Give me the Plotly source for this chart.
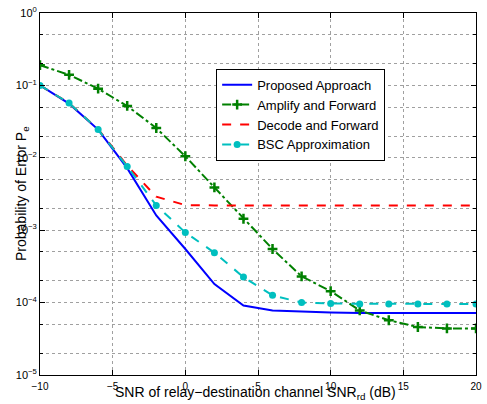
import plotly.graph_objects as go

snr = [-10, -8, -6, -4, -2, 0, 2, 4, 6, 8, 10, 12, 14, 16, 18, 20]

proposed = [0.1, 0.056, 0.0245, 0.0072, 0.0016, 5.5e-4, 1.8e-4, 9.1e-5, 7.8e-5, 7.5e-5,
            7.3e-5, 7.2e-5, 7.2e-5, 7.2e-5, 7.2e-5, 7.2e-5]
amplify = [0.19, 0.14, 0.09, 0.052, 0.0258, 0.0105, 0.0039, 0.00144, 5.5e-4, 2.3e-4,
           1.44e-4, 7.8e-5, 5.7e-5, 4.6e-5, 4.4e-5, 4.4e-5]
decode = [0.1, 0.057, 0.0248, 0.0078, 0.0029, 0.00222, 0.0022, 0.0022, 0.0022, 0.0022,
          0.0022, 0.0022, 0.0022, 0.0022, 0.0022, 0.0022]
bsc = [0.1, 0.057, 0.0246, 0.0076, 0.0022, 9.3e-4, 4.9e-4, 2.25e-4, 1.26e-4, 1.0e-4,
       9.7e-5, 9.6e-5, 9.6e-5, 9.6e-5, 9.6e-5, 9.6e-5]

xticks = [-10, -5, 0, 5, 10, 15, 20]
xticktext = ["\u221210", "\u22125", "0", "5", "10", "15", "20"]
yticks = [1e-5, 1e-4, 1e-3, 1e-2, 1e-1, 1e0]
yticktext = ["10<sup>\u22125</sup>", "10<sup>\u22124</sup>", "10<sup>\u22123</sup>",
             "10<sup>\u22122</sup>", "10<sup>\u22121</sup>", "10<sup>0</sup>"]

fig = go.Figure()
fig.add_trace(go.Scatter(x=snr, y=proposed, mode="lines", name="Proposed Approach",
                         line=dict(color="#0000ff", width=2)))
fig.add_trace(go.Scatter(x=snr, y=amplify, mode="lines+markers", name="Amplify and Forward",
                         line=dict(color="#008000", width=2, dash="dashdot"),
                         marker=dict(symbol="cross-thin", size=7,
                                     line=dict(color="#008000", width=2.5))))
fig.add_trace(go.Scatter(x=snr, y=decode, mode="lines", name="Decode and Forward",
                         line=dict(color="#ff0000", width=2, dash="dash")))
fig.add_trace(go.Scatter(x=snr, y=bsc, mode="lines+markers", name="BSC Approximation",
                         line=dict(color="#00bfbf", width=2, dash="dash"),
                         marker=dict(symbol="circle", size=7, color="#00bfbf")))

axis_common = dict(showline=True, linecolor="black", linewidth=1, mirror="ticks",
                   ticks="inside", ticklen=5, tickcolor="black",
                   showgrid=True, gridcolor="#a0a0a0", griddash="dot", gridwidth=1,
                   zeroline=False)

fig.update_xaxes(range=[-10, 20], tickvals=xticks, ticktext=xticktext,
                 ticklabeloverflow="allow", ticklabelstandoff=2,
                 tickfont=dict(family="Liberation Sans, Arial", size=10, color="black"),
                 **axis_common)
fig.update_yaxes(type="log", range=[-5, 0], tickvals=yticks, ticktext=yticktext,
                 tickfont=dict(family="Liberation Sans, Arial", size=11, color="black"),
                 minor=dict(ticks="inside", ticklen=3, tickcolor="black", showgrid=True,
                            gridcolor="#a0a0a0", griddash="dot", gridwidth=1),
                 **axis_common)

fig.update_layout(
    width=487, height=404,
    margin=dict(l=40, r=5, t=11, b=29),
    paper_bgcolor="white", plot_bgcolor="white",
    font=dict(family="Liberation Sans, Arial", size=14, color="black"),
    showlegend=True,
    legend=dict(x=0.404, y=0.846, xanchor="left", yanchor="top",
                bgcolor="white", bordercolor="black", borderwidth=1,
                font=dict(size=13), tracegroupgap=0, itemwidth=30),
    annotations=[
        dict(text="SNR of relay\u2212destination channel SNR<sub>rd</sub> (dB)",
             xref="paper", yref="paper", x=0.495, y=0, yshift=-18, yanchor="middle",
             showarrow=False, font=dict(size=14)),
        dict(text="Probability of Error P<sub>e</sub>", textangle=-90,
             xref="paper", yref="paper", x=0, y=0.5, xshift=-18, xanchor="center",
             yanchor="middle", showarrow=False, font=dict(size=14)),
    ],
)

fig.write_html("out.html")
